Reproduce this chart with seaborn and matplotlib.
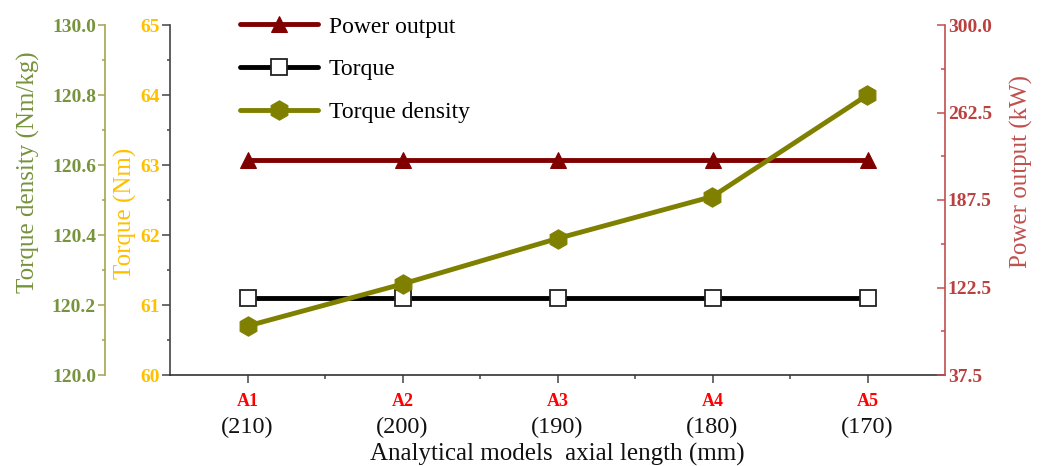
import numpy as np
import pandas as pd
import matplotlib
matplotlib.use("Agg")
import matplotlib.pyplot as plt
import matplotlib.transforms as mtransforms
from matplotlib.ticker import FixedLocator, MultipleLocator
import seaborn as sns

# ---- data ----
models = ["A1", "A2", "A3", "A4", "A5"]
axial_lengths = ["(210)", "(200)", "(190)", "(180)", "(170)"]
power_kw = [199, 199, 199, 199, 199]
torque_nm = [61.1, 61.1, 61.1, 61.1, 61.1]
torque_density = [120.14, 120.26, 120.39, 120.51, 120.80]

td_ticks = [120.0, 120.2, 120.4, 120.6, 120.8, 121.0]
td_labels = ["120.0", "120.2", "120.4", "120.6", "120.8", "130.0"]
torque_ticks = [60, 61, 62, 63, 64, 65]
torque_labels = ["60", "61", "62", "63", "64", "65"]
power_ticks = [37.5, 103.125, 168.75, 234.375, 300.0]
power_labels = ["37.5", "122.5", "187.5", "262.5", "300.0"]

df = pd.DataFrame({"model": models, "power": power_kw,
                   "torque": torque_nm, "td": torque_density})

sns.set_theme(style="ticks")
plt.rcParams["font.family"] = ["Liberation Serif", "DejaVu Serif"]

C_TD_TXT = "#77933C"
C_TD_SPINE = "#A4A44E"
C_TD_LINE = "#808000"
C_TQ_TXT = "#FFC000"
C_PW_TXT = "#B9413F"
C_PW_SPINE = "#C0504D"
C_PW_LINE = "#800000"

W, H = 1045, 466
fig = plt.figure(figsize=(W / 100, H / 100), dpi=100)
ax = fig.add_axes([170 / W, 1 - 375 / H, 775 / W, 350 / H])
ax_pw = ax.twinx()
ax_td = ax.twinx()

sns.lineplot(data=df, x="model", y="torque", ax=ax, sort=False, color="black",
             linewidth=3.5, marker="s", markersize=11, markerfacecolor="white",
             markeredgecolor="#222222", markeredgewidth=1.3, label="Torque")
sns.lineplot(data=df, x="model", y="power", ax=ax_pw, sort=False, color=C_PW_LINE,
             linewidth=3.5, marker="^", markersize=12, markerfacecolor=C_PW_LINE,
             markeredgecolor=C_PW_LINE, label="Power output")
sns.lineplot(data=df, x="model", y="td", ax=ax_td, sort=False, color=C_TD_LINE,
             linewidth=3.5, marker="h", markersize=14, markerfacecolor=C_TD_LINE,
             markeredgecolor=C_TD_LINE, label="Torque density")

for a in (ax, ax_pw, ax_td):
    if a.get_legend() is not None:
        a.get_legend().remove()
    a.set_xlabel("")
    a.set_ylabel("")

ax.set_xlim(-0.5, 4.5)

# ---- main (torque) axis ----
ax.set_ylim(60, 65)
ax.yaxis.set_major_locator(FixedLocator(torque_ticks))
ax.set_yticklabels(torque_labels, fontweight="bold")
ax.yaxis.set_minor_locator(MultipleLocator(0.5))
ax.tick_params(axis="y", which="major", direction="out", length=6, width=1.1,
               color="#444444", labelcolor=C_TQ_TXT, labelsize=14, pad=1.5)
ax.tick_params(axis="y", which="minor", direction="out", length=2.5, width=1.1,
               color="#444444")
ax.set_xticks(range(len(models)))
ax.set_xticklabels(axial_lengths, fontsize=17.5)
ax.xaxis.set_minor_locator(FixedLocator([0.5, 1.5, 2.5, 3.5]))
ax.tick_params(axis="x", which="major", direction="out", length=6, width=1.1,
               color="#444444", labelcolor="#111111", pad=24)
ax.tick_params(axis="x", which="minor", direction="out", length=3, width=1.1,
               color="#444444")
for s in ("top", "right"):
    ax.spines[s].set_visible(False)
ax.spines["left"].set_color("#444444")
ax.spines["bottom"].set_color("#333333")
ax.spines["left"].set_linewidth(1.2)
ax.spines["bottom"].set_linewidth(1.2)

trans = mtransforms.blended_transform_factory(ax.transData, ax.transAxes)
for i, m in enumerate(models):
    ax.text(i, -0.075, m, transform=trans, ha="center", va="center",
            color="#FF0000", fontweight="bold", fontsize=13)

# ---- power axis (right) ----
ax_pw.set_ylim(37.5, 300.0)
ax_pw.yaxis.set_major_locator(FixedLocator(power_ticks))
ax_pw.set_yticklabels(power_labels, fontweight="bold")
ax_pw.yaxis.set_minor_locator(FixedLocator([70.3125, 135.9375, 201.5625, 267.1875]))
ax_pw.tick_params(axis="y", which="major", direction="in", length=5.5, width=1.1,
                  color=C_PW_SPINE, labelcolor=C_PW_TXT, labelsize=14, pad=2)
ax_pw.tick_params(axis="y", which="minor", direction="in", length=3, width=1.1,
                  color=C_PW_SPINE)
for s in ("top", "left", "bottom"):
    ax_pw.spines[s].set_visible(False)
ax_pw.spines["right"].set_color(C_PW_SPINE)
ax_pw.spines["right"].set_linewidth(1.2)

# ---- torque density axis (outer left) ----
ax_td.set_ylim(120.0, 121.0)
ax_td.yaxis.set_ticks_position("left")
ax_td.yaxis.set_label_position("left")
ax_td.spines["left"].set_position(("outward", 65 * 0.72))
ax_td.spines["left"].set_visible(True)
ax_td.spines["left"].set_color(C_TD_SPINE)
ax_td.spines["left"].set_linewidth(1.2)
for s in ("top", "right", "bottom"):
    ax_td.spines[s].set_visible(False)
ax_td.yaxis.set_major_locator(FixedLocator(td_ticks))
ax_td.set_yticklabels(td_labels, fontweight="bold")
ax_td.yaxis.set_minor_locator(MultipleLocator(0.1))
ax_td.tick_params(axis="y", which="major", direction="out", length=5, width=1.1,
                  color=C_TD_SPINE, labelcolor=C_TD_TXT, labelsize=14, pad=1.5)
ax_td.tick_params(axis="y", which="minor", direction="out", length=2.5, width=1.1,
                  color=C_TD_SPINE)

# ---- axis titles ----
fig.text(28 / W, 1 - 172 / H, "Torque density (Nm/kg)", rotation=90,
         ha="center", va="center", fontsize=18, color=C_TD_TXT)
fig.text(125 / W, 1 - 213 / H, "Torque (Nm)", rotation=90,
         ha="center", va="center", fontsize=18, color=C_TQ_TXT)
fig.text(1021 / W, 1 - 171 / H, "Power output (kW)", rotation=90,
         ha="center", va="center", fontsize=18, color=C_PW_SPINE)
fig.text(557 / W, 1 - 454 / H, "Analytical models  axial length (mm)",
         ha="center", va="center", fontsize=18, color="#111111")

# ---- legend ----
h_pw, l_pw = ax_pw.get_legend_handles_labels()
h_tq, l_tq = ax.get_legend_handles_labels()
h_td, l_td = ax_td.get_legend_handles_labels()
leg = ax_td.legend(h_pw + h_tq + h_td, l_pw + l_tq + l_td, loc="upper left",
                   bbox_to_anchor=(240 / W, 1 - 16 / H), bbox_transform=fig.transFigure,
                   frameon=False, fontsize=17, handlelength=3.3, labelspacing=0.9,
                   handletextpad=0.45, borderpad=0, borderaxespad=0, numpoints=1)
for t in leg.get_texts():
    t.set_color("#000000")

fig.savefig("out.png", dpi=100, facecolor="white")
